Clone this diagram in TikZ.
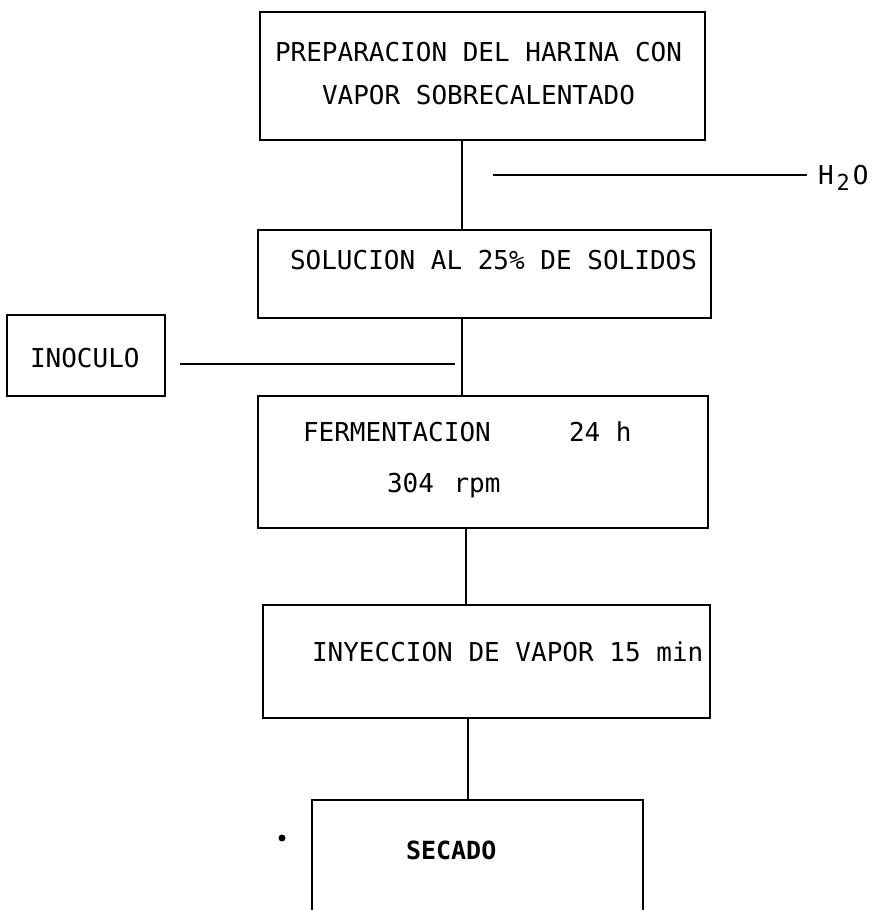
\documentclass[tikz,border=0pt]{standalone}
\usepackage{fontspec}
\setmonofont{DejaVu Sans Mono}
\begin{document}
\begin{tikzpicture}[x=1pt,y=-1pt,
  every node/.style={inner sep=0pt, outer sep=0pt},
  box/.style={draw, line width=2pt, rectangle},
  frame/.style={rectangle},
  lbl/.style={font=\ttfamily\fontsize{26}{26}\selectfont, anchor=base west},
  flow/.style={line width=2pt}]
\useasboundingbox (0,0) rectangle (872,910);

% process boxes
\node[box, minimum width=445pt, minimum height=128pt] (prep) at (482.5,76) {};
\node[box, minimum width=453pt, minimum height=88pt]  (sol)  at (484.5,274) {};
\node[box, minimum width=158pt, minimum height=81pt]  (inoc) at (86,355.5) {};
\node[box, minimum width=450pt, minimum height=132pt] (ferm) at (483,462) {};
\node[box, minimum width=447pt, minimum height=113pt] (iny)  at (486.5,661.5) {};
\node[frame, minimum width=331pt, minimum height=110pt] (sec) at (477.5,855) {};
\draw[flow] (sec.south west) -- (sec.north west) -- (sec.north east) -- (sec.south east);

% labels
\node[lbl] (t1a) at (275,61)  {PREPARACION DEL HARINA CON};
\node[lbl] (t1b) at (322,104) {VAPOR SOBRECALENTADO};
\node[lbl] (t2)  at (290,269) {SOLUCION AL 25\% DE SOLIDOS};
\node[lbl] (t3)  at (30,367)  {INOCULO};
\node[lbl] (t4a) at (303,441) {FERMENTACION};
\node[lbl] (t4b) at (569,441) {24 h};
\node[lbl] (t4c) at (387,492) {304\kern4pt\ rpm};
\node[lbl] (t5)  at (312,661) {INYECCION DE VAPOR 15 min};
\node[lbl, font=\ttfamily\bfseries\fontsize{25}{25}\selectfont] (t6) at (406,859) {SECADO};
\node[font=\ttfamily\fontsize{26}{26}\selectfont, anchor=base west] (h2o) at (818,184)
  {H\kern3pt\raisebox{-0.25em}{\fontsize{22}{22}\selectfont 2}\kern3pt O};
\node[circle, fill, minimum size=7pt] (dot) at (282,838) {};

% main flow line
\coordinate (c1) at (462,0);
\coordinate (c2) at (462,0);
\coordinate (c3) at (466,0);
\coordinate (c4) at (468,0);
\draw[flow] (prep.south -| c1) -- (sol.north -| c1);
\draw[flow] (sol.south -| c2) -- (ferm.north -| c2);
\draw[flow] (ferm.south -| c3) -- (iny.north -| c3);
\draw[flow] (iny.south -| c4) -- (sec.north -| c4);

% side feeds
\coordinate (h2oin) at (493,175);
\coordinate (h2oend) at (807,175);
\draw[flow] (h2oend) -- (h2oin);
\coordinate (inl) at (455,364);
\draw[flow, shorten <=15pt] (inoc.east |- inl) -- (inl);
\end{tikzpicture}
\end{document}
